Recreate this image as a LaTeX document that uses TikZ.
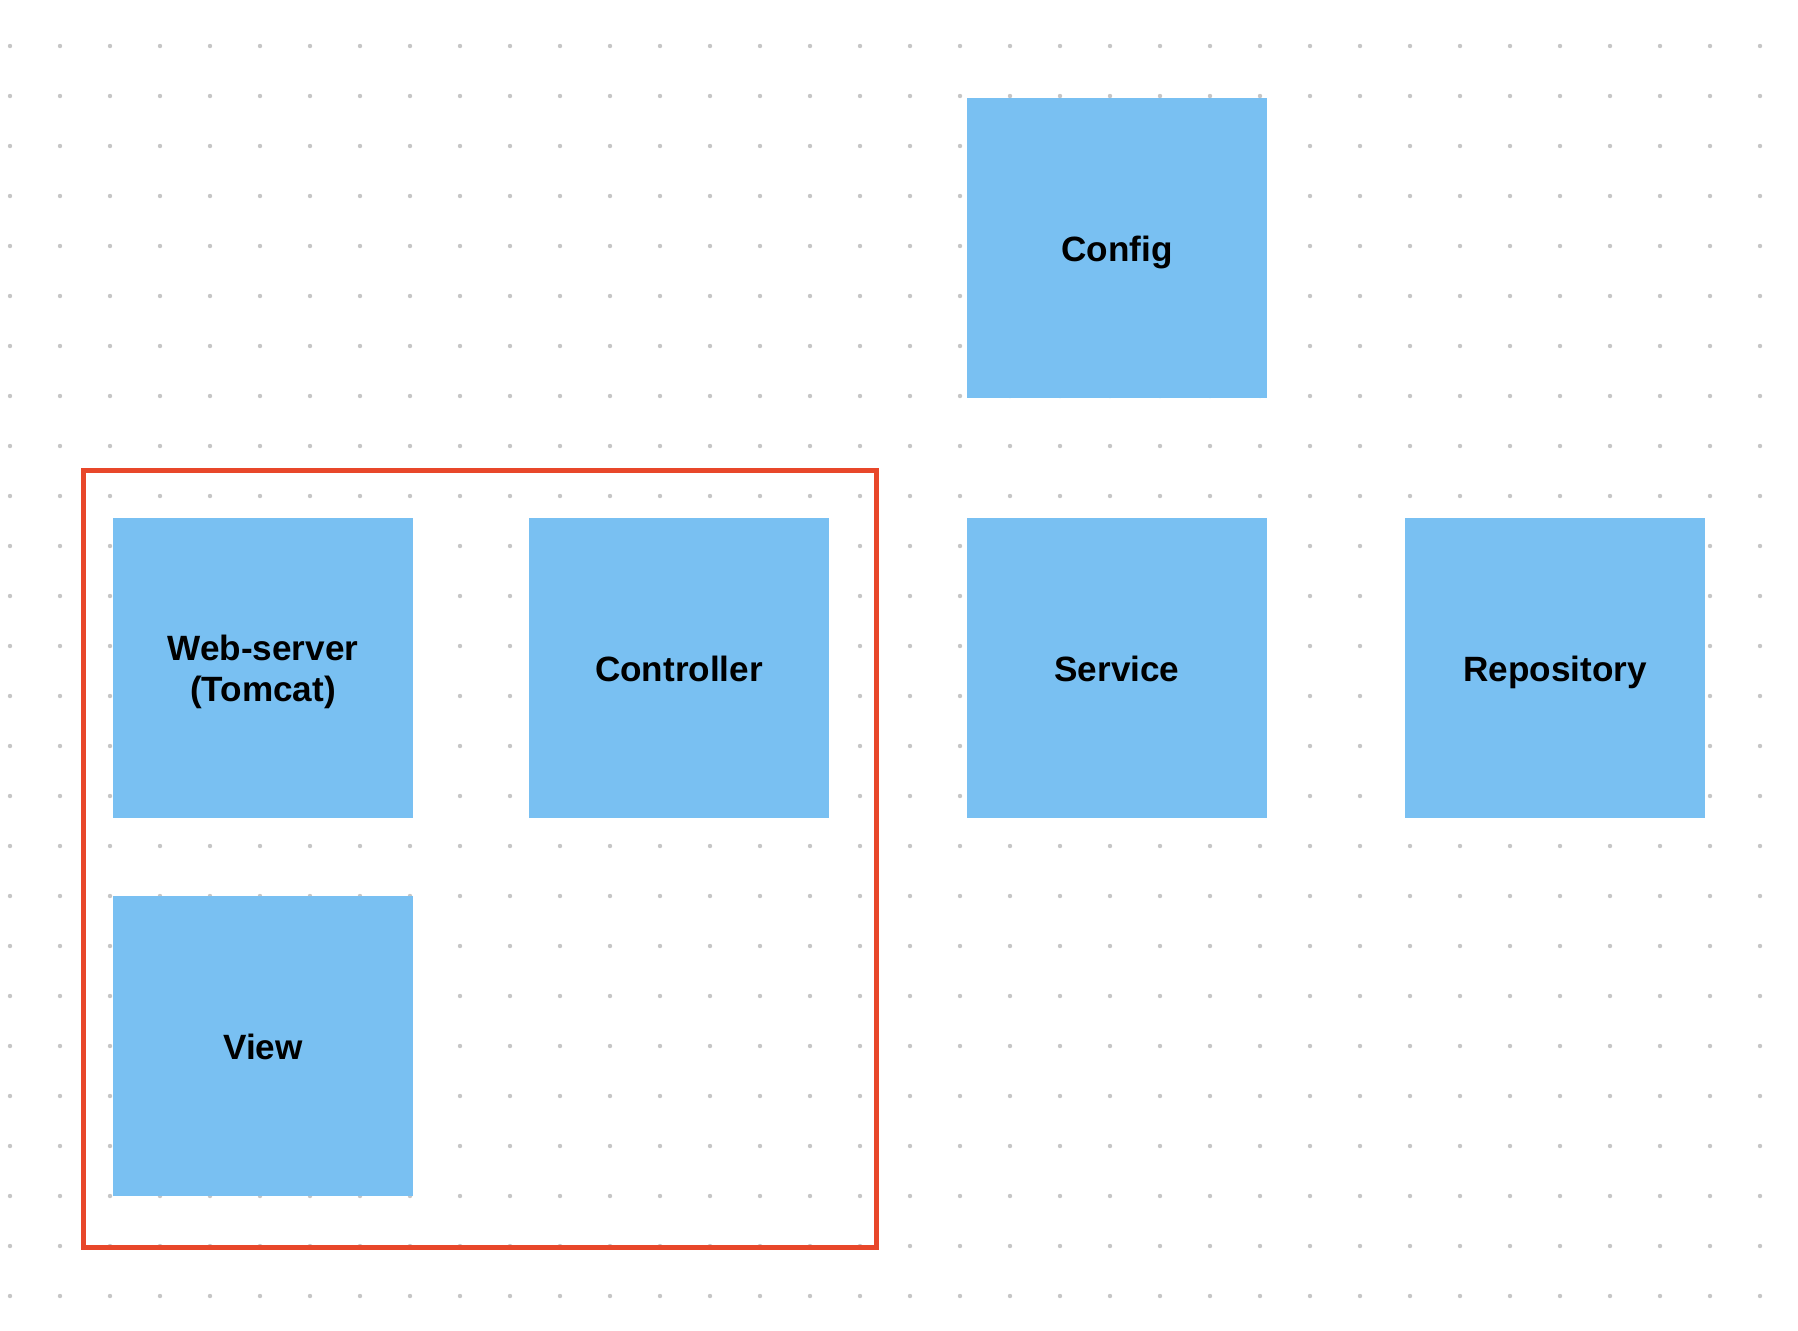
\documentclass[tikz,border=0pt]{standalone}
\usepackage{fontspec}
\setmainfont{Liberation Sans}
\usepackage{tikz}
\usetikzlibrary{positioning}
\definecolor{boxblue}{HTML}{79C0F2}
\definecolor{framered}{HTML}{E8472A}
\definecolor{dotgray}{HTML}{C6C6C6}

\tikzset{
    layer/.style={fill=boxblue, minimum size=6cm, inner sep=0pt, align=center,
        text height=15pt, text depth=0pt,
        font=\fontsize{20}{23.5}\selectfont\bfseries},
}

\begin{document}
\begin{tikzpicture}[x=0.02cm, y=-0.02cm]
    \useasboundingbox (0,0) rectangle (1798,1330);
    \fill[white] (0,0) rectangle (1798,1330);

    % dotted grid
    \foreach \gx in {10,60,...,1760}
        \foreach \gy in {46,96,...,1296}
            \fill[dotgray] (\gx,\gy) circle (2.2);

    \node[layer] (config) at (1117,248) {Config};
    \node[layer, text height=38.5pt] (web) at (263,668) {Web-server\\(Tomcat)};
    \node[layer] (controller) at (679,668) {Controller};
    \node[layer] (service) at (1117,668) {Service};
    \node[layer] (repo) at (1555,668) {Repository};
    \node[layer] (view) at (263,1046) {View};

    \coordinate (fa) at (83.5,470);
    \coordinate (fb) at (876.5,1247.5);
    \draw[framered, line width=2.85pt] (fa) rectangle (fb);
\end{tikzpicture}
\end{document}
